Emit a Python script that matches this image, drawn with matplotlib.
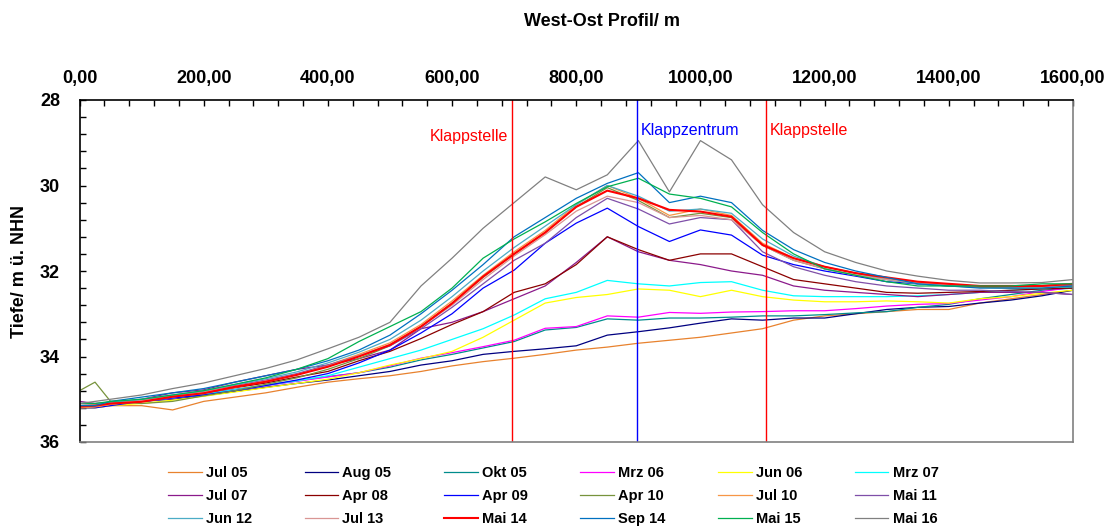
import matplotlib
matplotlib.use("Agg")
import matplotlib.pyplot as plt
from matplotlib.ticker import MultipleLocator

plt.rcParams['font.family'] = ['Liberation Sans', 'DejaVu Sans']

# Profile positions (m)
x_m = [0, 25, 50, 100, 150, 200, 250, 300, 350, 400, 450, 500, 550, 600, 650, 700, 750, 800,
       850, 900, 950, 1000, 1050, 1100, 1150, 1200, 1250, 1300, 1350, 1400, 1450, 1500, 1550, 1600]

# Tiefe (m ü. NHN) per survey
jul05 = [35.2, 35.2, 35.15, 35.15, 35.25, 35.05, 34.95, 34.85, 34.72, 34.6, 34.52, 34.45, 34.35, 34.22, 34.12, 34.04, 33.95,
         33.85, 33.78, 33.69, 33.62, 33.55, 33.45, 33.35, 33.15, 33.05, 33.0, 32.95, 32.9, 32.9, 32.75, 32.65, 32.55, 32.45]
aug05 = [35.15, 35.15, 35.1, 35.05, 35.0, 34.92, 34.82, 34.72, 34.63, 34.55, 34.45, 34.35, 34.2, 34.1, 33.95, 33.88, 33.82,
         33.75, 33.5, 33.42, 33.33, 33.22, 33.12, 33.15, 33.1, 33.1, 33.0, 32.9, 32.85, 32.83, 32.75, 32.68, 32.58, 32.45]
okt05 = [35.2, 35.15, 35.12, 35.05, 34.97, 34.87, 34.77, 34.67, 34.57, 34.47, 34.38, 34.25, 34.08, 33.95, 33.8, 33.65, 33.38,
         33.32, 33.12, 33.15, 33.1, 33.1, 33.08, 33.05, 33.05, 33.02, 32.98, 32.95, 32.85, 32.78, 32.65, 32.55, 32.45, 32.4]
mrz06 = [35.15, 35.15, 35.1, 35.05, 34.98, 34.88, 34.78, 34.68, 34.58, 34.48, 34.38, 34.22, 34.04, 33.91, 33.77, 33.62, 33.34,
         33.3, 33.05, 33.08, 32.97, 32.99, 32.96, 32.95, 32.93, 32.93, 32.88, 32.82, 32.78, 32.76, 32.68, 32.6, 32.48, 32.38]
jun06 = [35.2, 35.2, 35.15, 35.1, 35.02, 34.93, 34.83, 34.73, 34.63, 34.53, 34.38, 34.2, 34.05, 33.88, 33.55, 33.15, 32.75,
         32.62, 32.55, 32.42, 32.45, 32.6, 32.45, 32.6, 32.68, 32.72, 32.72, 32.7, 32.72, 32.75, 32.65, 32.6, 32.52, 32.45]
mrz07 = [35.15, 35.15, 35.1, 35.05, 34.97, 34.88, 34.78, 34.67, 34.57, 34.45, 34.25, 34.05, 33.85, 33.6, 33.35, 33.03, 32.65,
         32.5, 32.22, 32.3, 32.35, 32.27, 32.25, 32.45, 32.58, 32.6, 32.6, 32.6, 32.58, 32.55, 32.5, 32.45, 32.42, 32.38]
jul07 = [35.05, 35.1, 35.08, 35.0, 34.85, 34.78, 34.6, 34.45, 34.3, 34.2, 34.05, 33.85, 33.35, 33.2, 32.95, 32.65, 32.35,
         31.8, 31.2, 31.55, 31.75, 31.85, 32.0, 32.1, 32.35, 32.45, 32.5, 32.55, 32.6, 32.55, 32.5, 32.5, 32.5, 32.55]
apr08 = [35.15, 35.15, 35.1, 35.02, 34.95, 34.85, 34.73, 34.62, 34.48, 34.35, 34.1, 33.88, 33.58, 33.25, 32.95, 32.5, 32.3,
         31.85, 31.2, 31.5, 31.75, 31.6, 31.6, 31.9, 32.2, 32.3, 32.4, 32.5, 32.52, 32.5, 32.48, 32.45, 32.42, 32.4]
apr09 = [35.2, 35.2, 35.15, 35.05, 34.97, 34.9, 34.8, 34.68, 34.55, 34.4, 34.15, 33.85, 33.45, 33.0, 32.4, 31.98, 31.35,
         30.88, 30.53, 30.96, 31.31, 31.04, 31.16, 31.63, 31.85, 32.0, 32.12, 32.25, 32.3, 32.35, 32.37, 32.37, 32.35, 32.33]
apr10 = [34.8, 34.6, 35.05, 35.1, 35.05, 34.92, 34.8, 34.65, 34.5, 34.3, 34.05, 33.75, 33.3, 32.75, 32.15, 31.6, 31.1,
         30.5, 30.05, 30.35, 30.75, 30.65, 30.75, 31.4, 31.75, 31.95, 32.1, 32.2, 32.3, 32.35, 32.38, 32.4, 32.4, 32.35]
jul10 = [35.2, 35.18, 35.12, 35.05, 34.95, 34.85, 34.72, 34.58, 34.42, 34.2, 33.95, 33.68, 33.25, 32.7, 32.1, 31.55, 31.05,
         30.45, 30.0, 30.3, 30.7, 30.55, 30.7, 31.35, 31.7, 31.9, 32.05, 32.18, 32.28, 32.33, 32.35, 32.35, 32.35, 32.3]
mai11 = [35.1, 35.1, 35.08, 35.02, 34.92, 34.82, 34.68, 34.55, 34.4, 34.2, 33.98, 33.75, 33.35, 32.85, 32.3, 31.75, 31.35,
         30.75, 30.3, 30.55, 30.9, 30.75, 30.8, 31.55, 31.9, 32.1, 32.25, 32.35, 32.4, 32.45, 32.45, 32.48, 32.5, 32.55]
jun12 = [35.15, 35.12, 35.08, 35.0, 34.9, 34.8, 34.66, 34.52, 34.36, 34.15, 33.9, 33.6, 33.15, 32.6, 32.0, 31.45, 30.95,
         30.45, 30.0, 30.25, 30.6, 30.55, 30.65, 31.25, 31.65, 31.9, 32.05, 32.2, 32.3, 32.32, 32.35, 32.35, 32.35, 32.3]
jul13 = [35.15, 35.12, 35.1, 35.03, 34.93, 34.83, 34.7, 34.57, 34.42, 34.22, 33.98, 33.72, 33.3, 32.8, 32.2, 31.65, 31.15,
         30.6, 30.25, 30.4, 30.75, 30.7, 30.8, 31.4, 31.75, 31.95, 32.1, 32.2, 32.28, 32.32, 32.35, 32.35, 32.35, 32.32]
mai14 = [35.17, 35.15, 35.1, 35.06, 34.94, 34.86, 34.71, 34.59, 34.43, 34.24, 34.0, 33.73, 33.3, 32.76, 32.13, 31.6, 31.1,
         30.5, 30.12, 30.3, 30.57, 30.61, 30.73, 31.39, 31.7, 31.9, 32.05, 32.15, 32.25, 32.3, 32.35, 32.35, 32.35, 32.3]
sep14 = [35.15, 35.15, 35.05, 34.95, 34.85, 34.75, 34.6, 34.45, 34.3, 34.1, 33.85, 33.5, 33.0, 32.45, 31.85, 31.2, 30.75,
         30.3, 29.95, 29.7, 30.4, 30.25, 30.4, 31.05, 31.5, 31.8, 32.0, 32.15, 32.3, 32.35, 32.4, 32.4, 32.4, 32.35]
mai15 = [35.1, 35.1, 35.05, 35.0, 34.9, 34.8, 34.65, 34.5, 34.3, 34.05, 33.65, 33.3, 32.95, 32.4, 31.7, 31.25, 30.85,
         30.42, 30.03, 29.83, 30.2, 30.3, 30.5, 31.1, 31.6, 31.95, 32.1, 32.25, 32.35, 32.35, 32.35, 32.35, 32.3, 32.3]
mai16 = [35.1, 35.05, 35.0, 34.9, 34.75, 34.62, 34.45, 34.28, 34.08, 33.82, 33.55, 33.2, 32.35, 31.7, 31.0, 30.4, 29.8,
         30.1, 29.75, 28.95, 30.15, 28.95, 29.4, 30.45, 31.1, 31.55, 31.8, 32.0, 32.12, 32.22, 32.28, 32.28, 32.27, 32.2]

labels = ['Jul 05', 'Aug 05', 'Okt 05', 'Mrz 06', 'Jun 06', 'Mrz 07',
          'Jul 07', 'Apr 08', 'Apr 09', 'Apr 10', 'Jul 10', 'Mai 11',
          'Jun 12', 'Jul 13', 'Mai 14', 'Sep 14', 'Mai 15', 'Mai 16']
series = [jul05, aug05, okt05, mrz06, jun06, mrz07, jul07, apr08, apr09,
          apr10, jul10, mai11, jun12, jul13, mai14, sep14, mai15, mai16]
colors = ['#E8822E', '#000080', '#008C8C', '#FF00FF', '#FFFF00', '#00FFFF',
          '#8B1A8B', '#8B0000', '#0000FF', '#77933C', '#F79646', '#7F4FA8',
          '#4BACC6', '#D99694', '#FF0000', '#0070C0', '#00B050', '#808080']

# Markierungen
mark_x = [697, 898, 1105]
mark_text = ['Klappstelle', 'Klappzentrum', 'Klappstelle']
mark_color = ['#FF0000', '#0000FF', '#FF0000']

xtick_vals = [0, 200, 400, 600, 800, 1000, 1200, 1400, 1600]
xtick_labels = ['0,00', '200,00', '400,00', '600,00', '800,00', '1000,00', '1200,00', '1400,00', '1600,00']

fig = plt.figure(figsize=(11.11, 5.28), dpi=100)
ax = fig.add_axes([79.5 / 1111, 1 - 442 / 528, (1073 - 79.5) / 1111, 342 / 528])

handles = []
for lab, ys, c in zip(labels, series, colors):
    lw = 1.5 if lab == 'Mai 14' else 0.9
    line, = ax.plot(x_m, ys, color=c, lw=lw, label=lab)
    handles.append(line)

for xv, c in zip(mark_x, mark_color):
    ax.axvline(xv, color=c, lw=1.0)

ax.text(mark_x[0] - 6, 28.85, mark_text[0], color=mark_color[0], fontsize=11.5, ha='right', va='center')
ax.text(mark_x[1] + 6, 28.72, mark_text[1], color=mark_color[1], fontsize=11.5, ha='left', va='center')
ax.text(mark_x[2] + 6, 28.72, mark_text[2], color=mark_color[2], fontsize=11.5, ha='left', va='center')

ax.set_xlim(0, 1600)
ax.set_ylim(36, 28)
ax.xaxis.tick_top()
ax.set_xticks(xtick_vals)
ax.set_xticklabels(xtick_labels, fontsize=13, fontweight='bold')
ax.xaxis.set_minor_locator(MultipleLocator(40))
ax.set_yticks([28, 30, 32, 34, 36])
ax.set_yticklabels(['28', '30', '32', '34', '36'], fontsize=13, fontweight='bold')
ax.yaxis.set_minor_locator(MultipleLocator(0.4))
ax.tick_params(axis='x', which='both', direction='in', top=True, bottom=False, length=4, width=1, pad=9)
ax.tick_params(axis='y', which='both', direction='in', length=4, width=1, pad=14)

ax.spines['top'].set_color('black')
ax.spines['left'].set_color('black')
ax.spines['right'].set_color('#808080')
ax.spines['bottom'].set_color('#808080')
for s in ax.spines.values():
    s.set_linewidth(1.2)

fig.text(602 / 1111, 1 - 21 / 528, 'West-Ost Profil/ m', fontsize=13, fontweight='bold', ha='center', va='center')
fig.text(20 / 1111, 1 - 271 / 528, 'Tiefe/ m ü. NHN', fontsize=13, fontweight='bold', rotation=90,
         ha='center', va='center')

# legend is filled row by row in the reference
ncol = 6
nrow = 3
order = [r * ncol + c for c in range(ncol) for r in range(nrow)]
fig.legend([handles[i] for i in order], [labels[i] for i in order],
           loc='upper left', bbox_to_anchor=(168 / 1111, 1 - 466 / 528), ncol=ncol, frameon=False,
           prop={'size': 10.5, 'weight': 'bold'}, handlelength=2.3, handletextpad=0.3,
           columnspacing=3.6, labelspacing=0.62, borderpad=0, borderaxespad=0)

fig.savefig('out.png', dpi=100)
